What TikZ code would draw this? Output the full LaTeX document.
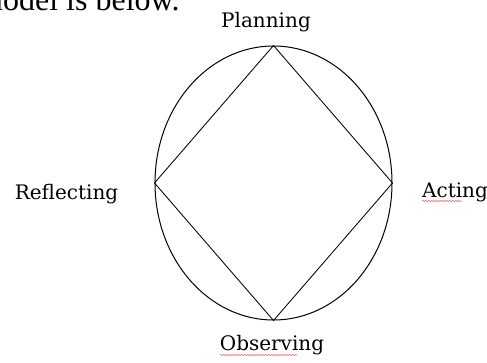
\documentclass[tikz,border=0pt]{standalone}
\usepackage{fontspec}
\setmainfont{Liberation Serif}
\newfontfamily\labelfont{DejaVu Serif}
\usetikzlibrary{positioning,shapes.geometric,decorations.pathmorphing}
\definecolor{spellred}{RGB}{235,130,130}
\tikzset{
  stage/.style={font=\labelfont\fontsize{20}{20}\selectfont,anchor=base,inner sep=0pt,text=black},
  spell/.style={spellred,line width=0.6pt,decorate,decoration={snake,amplitude=0.8pt,segment length=3pt}}
}

\begin{document}
\begin{tikzpicture}[x=1pt,y=-1pt]
  \useasboundingbox (0,0) rectangle (487,362);
  \clip (0,0) rectangle (487,362);
  \node[font=\fontsize{32}{32}\selectfont,anchor=base west,inner sep=0pt] (intro) at (-22,10) {model is below.};
  \node[draw,ellipse,line width=1pt,minimum width=237pt,minimum height=274pt,inner sep=0pt] (cycle) at (273.5,183) {};
  \draw[line width=0.85pt] (cycle.north)--(cycle.east)--(cycle.south)--(cycle.west)--cycle;
  \node[stage] (plan) at (266,27) {Planning};
  \node[stage] (act) at (455,197) {Acting};
  \node[stage] (obs) at (272,350) {Observing};
  \node[stage] (refl) at (66.5,199) {Reflecting};
  \draw[spell] (act.base west)++(0,4) -- ++(40,0);
  \draw[spell] (obs.base west)++(0,5) -- ++(78,0);
\end{tikzpicture}
\end{document}
